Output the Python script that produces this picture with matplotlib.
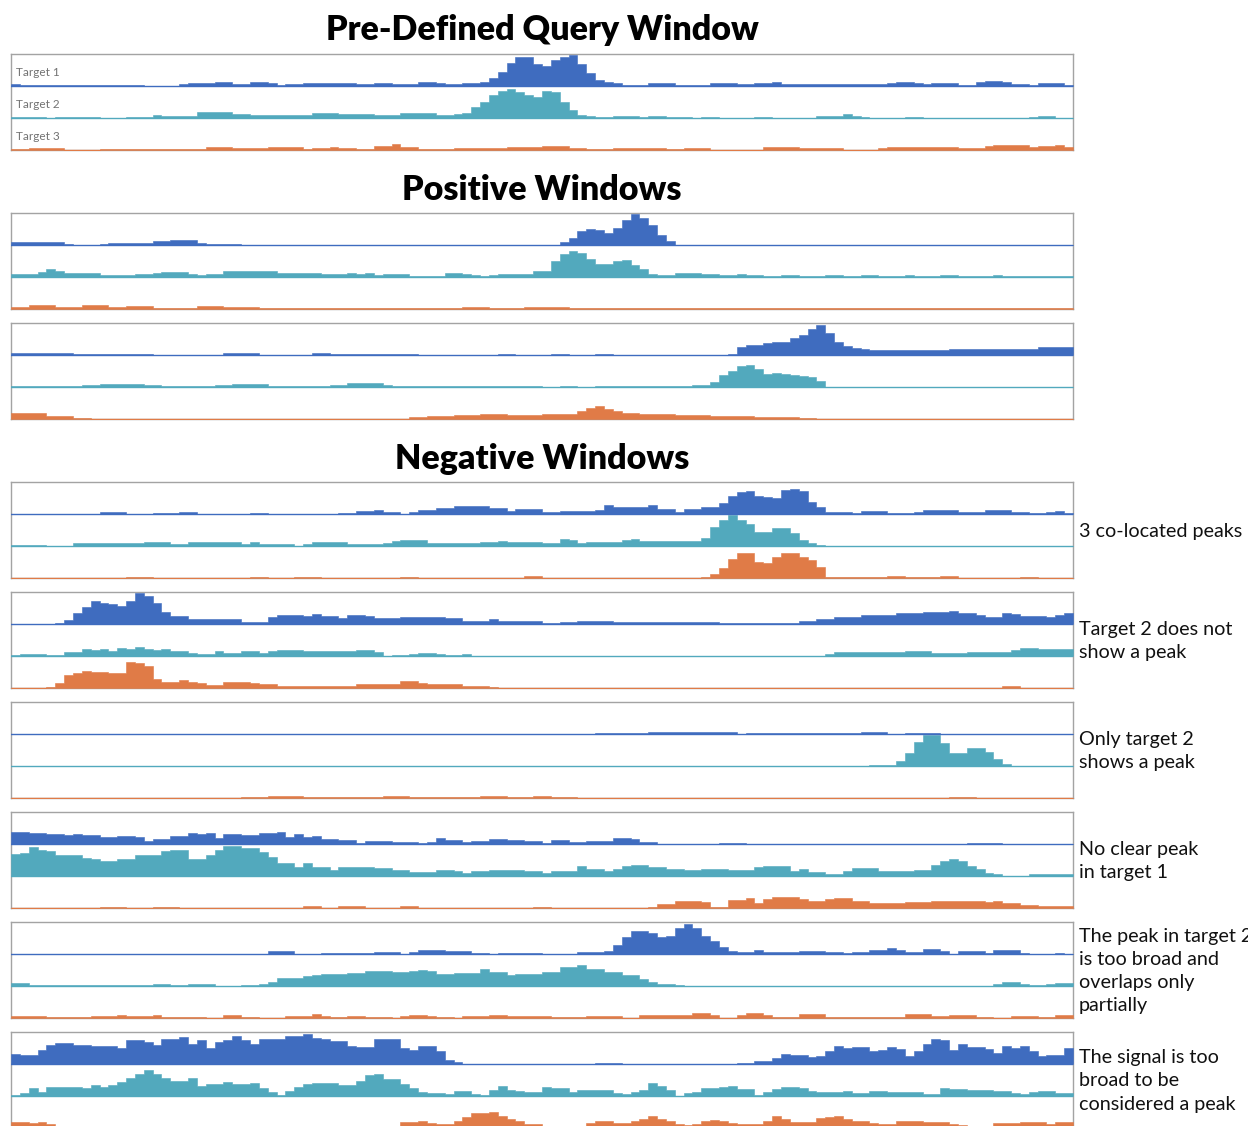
import numpy as np
import matplotlib.pyplot as plt

plt.rcParams['font.family'] = ['Lato', 'DejaVu Sans']

# ---------------------------------------------------------------------------
# Binned signal (120 bins per window, track height = 32 units)
# ---------------------------------------------------------------------------
query_t1 = [2, 1.5, 1, 1, 1, 1, 1, 1, 1.5, 1,
            1, 1, 1, 1.3, 1.3, 0.5, 0.5, 0.5, 0.5, 2.5,
            2.7, 2.7, 2.7, 3.7, 3.7, 2.3, 2.3, 3.7, 3.7, 3,
            1.5, 2.3, 2.3, 3.3, 3.3, 3.5, 3.5, 3, 3, 2.3,
            2.3, 2.7, 2.7, 1.7, 1.7, 1.7, 3.7, 3.7, 2.7, 1.7,
            1.7, 2.7, 2.7, 3.7, 7.7, 14, 23, 29, 29, 22,
            20, 26, 29, 31, 22, 13, 6, 3.7, 2.7, 1.3,
            1.3, 1.3, 2.7, 2.7, 2.7, 1, 1, 1, 1, 3.3,
            3.3, 3.3, 1.7, 1.7, 2.7, 2.7, 3.7, 2.3, 2.3, 2.3,
            2.3, 1.7, 1.7, 1.7, 1.7, 1.7, 1.7, 2.3, 2.3, 3.3,
            4.3, 4.3, 3.3, 2, 2.7, 2.7, 2.7, 1.3, 1.3, 3.7,
            5, 5, 3.7, 2, 2, 0.7, 2.7, 2.7, 2.7, 1.3]
query_t2 = [0.7, 0.7, 0.7, 0.7, 0, 1, 1, 1, 1, 1,
            0.3, 0.3, 0.3, 1, 1, 1, 2.7, 1.7, 1.7, 1.7,
            1.7, 5.7, 5.7, 5.7, 5.7, 3.7, 3.7, 2.7, 2.7, 2.7,
            3, 3, 3, 3, 4.7, 4.7, 4.7, 4, 4, 4,
            4, 3.3, 3.3, 3.3, 4.7, 4.7, 4.7, 4.7, 2.7, 2.7,
            4, 5.3, 10.7, 16, 23, 27, 28.7, 26, 23, 21,
            27, 25.7, 16, 8, 2.7, 2, 0.7, 0.7, 1.7, 1.7,
            1.7, 1, 2, 2, 1, 1, 1, 0.3, 1, 1,
            0.3, 0.3, 0.3, 0.3, 1, 1, 0, 0, 0, 0,
            0, 2.3, 2.3, 2.3, 4, 2.3, 1, 0.3, 0.3, 0.3,
            0.3, 1, 1, 0.3, 0.3, 0.3, 0.3, 0.3, 0.3, 0.3,
            0.3, 0.3, 0.3, 0.3, 0.3, 0.7, 1.7, 1.7, 0.3, 0.3]
query_t3 = [1, 1, 1.7, 1.7, 1.7, 1.7, 0.3, 0.3, 0.3, 0.3,
            0.7, 0.7, 0.7, 0.7, 0.7, 0.7, 1.3, 1.3, 1.3, 1.3,
            1.3, 1.3, 3.3, 3.3, 3.3, 1.7, 1.7, 1.7, 1.7, 2.7,
            2.7, 2.7, 2.7, 1, 2.3, 2.3, 3.3, 2.3, 2.3, 1,
            1, 3.7, 3.7, 5.7, 3.3, 3.3, 1, 1, 1, 1,
            1.7, 1.7, 1.7, 1.7, 1.7, 1.7, 2.7, 2.7, 2.7, 2.7,
            3.7, 3.7, 3.7, 2, 2, 0.7, 0.7, 0.7, 2.3, 2.3,
            2.3, 2.3, 2.3, 2.3, 1.3, 1.3, 2, 2, 2, 0.3,
            0.3, 0.3, 0.3, 0.3, 0.3, 2.7, 2.7, 2.7, 2.7, 2.3,
            2.3, 2.3, 2.3, 2.3, 0.3, 0.3, 0.3, 0.3, 1.7, 3.3,
            3.3, 3.3, 3.3, 3.3, 3.3, 3.3, 3.3, 1.7, 1.7, 1.7,
            4, 5.3, 5.3, 5.3, 5.3, 3.3, 3.7, 3.7, 4.7, 3.3]

pos1_t1 = [2.7, 2.7, 2.7, 2.7, 2.7, 2.7, 1.3, 0, 0, 0,
           1.3, 2.3, 2.3, 2.3, 2.3, 2.3, 3.7, 3.7, 4.7, 4.7,
           4.7, 2.3, 1, 1, 1, 1, 0.3, 0.3, 0.3, 0.3,
           0.3, 0.3, 0.3, 0.3, 0.3, 0.3, 0.3, 0.3, 0.3, 0.3,
           0.3, 0.3, 0.3, 0.3, 0.3, 0.3, 0.3, 0.3, 0.3, 0.3,
           0.3, 0.3, 0.3, 0.3, 0.3, 0.3, 0.3, 0.3, 0.3, 0.3,
           0.3, 0.3, 2.7, 7.3, 14, 16, 15, 11.7, 17.3, 25,
           30.7, 27, 20, 10, 4.3, 0.3, 0.3, 0.3, 0.3, 0.3,
           0.2, 0.2, 0.2, 0.2, 0.2, 0.2, 0.2, 0.2, 0.2, 0.2,
           0.2, 0.2, 0.2, 0.2, 0.2, 0.2, 0.2, 0.2, 0.2, 0.2,
           0.2, 0.2, 0.2, 0.2, 0.2, 0.2, 0.2, 0.2, 0.2, 0.2,
           0.2, 0.2, 0.2, 0.2, 0.2, 0.2, 0.2, 0.2, 0.2, 0.2]
pos1_t2 = [3.3, 3.3, 3.3, 5.3, 8, 6.3, 4.3, 4.3, 4.3, 4.3,
           2.3, 2.3, 2.3, 1.7, 2.7, 2.7, 3.7, 4.7, 4.7, 4.7,
           3, 2, 3.3, 3.3, 5.7, 5.7, 5.7, 5.7, 5.7, 5.7,
           3.7, 3.7, 3.7, 3.7, 3.7, 2.7, 2.7, 2.7, 4.3, 3,
           4, 2.3, 2.7, 2.7, 2.7, 1.3, 1.3, 1.3, 1.3, 4.3,
           4.3, 3, 2.3, 1, 2, 3.3, 3.3, 3.3, 3.3, 6,
           6, 16, 22.7, 26, 24.3, 18, 13, 13, 16, 16.7,
           12, 8, 2.7, 2, 2, 4, 4, 4, 3, 3,
           2, 2, 3, 2, 2, 1, 1, 2, 2, 1,
           1, 1, 2, 2, 1, 1, 2, 2, 1, 1,
           1, 2, 1, 1, 1, 2, 2, 1, 1, 1,
           1, 2, 1, 1, 1, 1, 1, 1, 1, 1]
pos1_t3 = [2.3, 2.3, 4, 4, 4, 2.3, 2.3, 2.3, 4, 4,
           4, 2.3, 2.3, 3.3, 3.3, 3.3, 1.3, 1.3, 1.3, 1.3,
           1.3, 2.7, 2.7, 2.7, 2, 2, 2, 2, 1, 1,
           1, 1, 1, 1, 1, 1, 1, 1, 1, 1,
           1, 1, 1, 1, 1, 1, 1, 1, 1, 1.3,
           1.3, 2.3, 2.3, 2.3, 0.7, 0.7, 0.7, 0.7, 2, 2,
           2, 2, 2, 0.7, 0.7, 0.7, 0.7, 0.7, 0.7, 0.7,
           0.7, 1, 1, 0.7, 0.7, 1, 1, 0.7, 0.7, 0.7,
           1, 1, 0.7, 0.7, 0.7, 1, 1, 0.7, 0.7, 0.7,
           0.7, 1, 1, 0.7, 0.7, 0.7, 1, 1, 0.7, 0.7,
           0.7, 1, 1, 1, 0.7, 0.7, 0.7, 0.7, 1, 1,
           0.7, 0.7, 0.7, 1, 1, 0.7, 0.7, 0.7, 0.7, 0.7]

pos2_t1 = [2, 2, 2, 2, 2, 2, 2, 1, 1, 1,
           1.5, 1.5, 1.5, 1.5, 1.5, 1.5, 0.5, 0.5, 0.5, 0.5,
           0.5, 0.5, 0.5, 0.5, 2, 2, 2, 2, 0.5, 0.5,
           0.5, 0.5, 0.5, 0.5, 2, 2, 0.7, 0.7, 0.7, 0.7,
           0.7, 0.7, 0.7, 0.7, 1.5, 1.5, 0.5, 0.5, 0.5, 0.5,
           0.5, 0.5, 0.5, 0.5, 0.5, 1, 1, 0.5, 0.5, 0.5,
           0.5, 1, 1, 0.5, 0.5, 0.5, 1, 1, 0.5, 0.5,
           0.5, 0.5, 0.5, 0.5, 0.5, 0.5, 0.5, 0.5, 0.5, 0.5,
           0.5, 1, 8, 10, 10, 12, 13, 13, 17, 20,
           26, 30, 22, 13, 9, 7, 6, 5, 5, 5,
           5, 5, 5, 5, 5, 5, 6, 6, 6, 6,
           6, 6, 6, 6, 6, 6, 8, 8, 8, 8]
pos2_t2 = [1, 1, 1, 1, 1, 1, 1, 1, 2, 2,
           3.5, 3.5, 3.5, 3.5, 3, 2, 2, 1, 1, 1,
           1, 1, 1, 2, 2, 3.5, 3.5, 3.5, 3.5, 1.5,
           1.5, 1.5, 1.5, 1, 1, 1, 2.5, 2.5, 4, 4,
           4, 4, 2, 1, 1, 1, 1, 1, 1, 1,
           1, 1, 1, 1, 1, 1, 1, 1, 1, 1,
           0.5, 0.5, 1, 1, 0.5, 0.5, 1, 1, 1, 1,
           1, 1.5, 1.5, 1.5, 1.5, 1.5, 1.5, 2, 2, 5,
           12, 16, 21, 22, 18, 13, 14, 13, 12, 11,
           10, 6, 0, 0, 0, 0, 0, 0, 0, 0,
           0, 0, 0, 0, 0, 0, 0, 0, 0, 0,
           0, 0, 0, 0, 0, 0, 0, 0, 0, 0]
pos2_t3 = [6, 6, 6, 6, 3, 3, 3, 1, 1, 0.5,
           0.5, 0.5, 0.5, 0.5, 0.5, 0.5, 0.5, 0.5, 0.5, 0.5,
           0.5, 0.5, 0.5, 0.5, 0.5, 0.5, 0.5, 0.5, 0.5, 0.5,
           0.5, 0.5, 0.5, 0.5, 0.5, 0.5, 0.5, 0.5, 0.5, 0.5,
           0.5, 0.5, 0.5, 0.5, 0.5, 2, 2, 3, 3, 3,
           4, 4, 4, 5, 5, 5, 4, 4, 4, 4,
           5, 5, 5, 5, 8, 11, 13, 10, 8, 6,
           6, 5, 5, 5, 5, 4, 4, 4, 4, 3,
           3, 3, 3, 3, 2, 2, 2, 2, 2, 1.5,
           1.5, 0.3, 0.3, 0.3, 0.3, 0.3, 0.3, 0.3, 0.3, 0.3,
           0.3, 0.3, 0.3, 0.3, 0.3, 0.3, 0.3, 0.3, 0.3, 0.3,
           0.3, 0.3, 0.3, 0.3, 0.3, 0.3, 0.3, 0.3, 0.3, 0.3]

neg1_t1 = [0, 0, 0, 0, 0, 0.3, 0.3, 0.3, 0.3, 0.3,
           1.7, 1.7, 1.7, 0, 0, 0, 0.7, 0.7, 0.7, 2.3,
           2.3, 0, 0, 0, 0.3, 0.3, 0.3, 1.3, 1.3, 0,
           0, 0, 0, 0, 0, 0, 0, 1, 1, 2.7,
           2.7, 4.3, 2, 2, 0.3, 1.7, 4, 4, 5.7, 5.7,
           7.7, 7.7, 7.7, 7.7, 6.3, 6.3, 2.7, 5.3, 5.3, 5.3,
           2.3, 2.3, 3, 3, 3, 3, 4, 8.7, 7.3, 7.3,
           7.3, 7.3, 9.3, 5.3, 5.3, 2.3, 4.7, 4.7, 7.3, 7.3,
           10.7, 18.3, 21.7, 23.3, 18.3, 16.7, 16, 24, 25, 23.3,
           11.7, 6.7, 2.3, 2.3, 2.3, 1, 3, 3, 3, 1.3,
           1.3, 0.7, 2.3, 3.7, 3.7, 3.7, 3.7, 2, 2, 2.3,
           4, 4, 4, 2.3, 2.3, 0.7, 0.7, 2, 3, 1.3]
neg1_t2 = [1, 1, 1, 1, 0, 0, 0, 3, 3, 3,
           3, 3, 3, 3, 3, 4.3, 4.3, 4.3, 2.3, 2.3,
           4, 4, 4, 4, 4, 4, 2.3, 3.7, 2, 2,
           2, 2, 0, 2.3, 4.3, 4.3, 4.3, 4.3, 1.7, 1.7,
           1.7, 1.7, 3.3, 4.7, 6.3, 6.3, 6.3, 3, 3, 3,
           3, 3, 3, 3.7, 3.7, 4.7, 3.7, 3.7, 3.7, 3.7,
           3, 3, 7.3, 6.3, 3, 4, 4, 4, 4, 6.3,
           7.3, 5, 5, 5, 5, 5, 5, 5, 8.3, 19,
           26.3, 30.7, 26.3, 22.3, 14, 14, 18, 18, 13, 6.3,
           3, 1, 0, 0, 0, 0, 0.3, 0.3, 0.3, 0,
           0, 0, 0, 0, 0, 0, 0, 0, 0, 0,
           0, 0, 0, 0, 0, 0, 0, 0, 0, 0]
neg1_t3 = [0.3, 0.3, 0.3, 0.3, 0.3, 0.3, 0.3, 0.3, 0.3, 0.3,
           0.3, 0.3, 0.3, 1.3, 1.3, 1.3, 0.3, 0.3, 0.3, 0.3,
           0.3, 0.3, 0.3, 0.3, 0.3, 0.3, 0.3, 1, 1, 0.3,
           0.3, 0.3, 1.3, 1.3, 1.3, 0.3, 0.3, 0.3, 0.3, 0.3,
           0.3, 0.3, 0.3, 0.3, 1.3, 1.3, 0.3, 0.3, 0.3, 0.3,
           0.3, 0.3, 0.3, 0.3, 0.3, 0.3, 0.3, 0.3, 2, 2,
           0.3, 0.3, 0.3, 0.3, 0.3, 0.3, 0.3, 0.3, 0.3, 0.3,
           0.3, 0.3, 0.3, 0.3, 0.3, 0.3, 0.3, 0.3, 1.3, 3.7,
           10.3, 19, 24.7, 24.7, 16.3, 14.7, 20.7, 25.3, 25.3, 20.7,
           18, 10.7, 1, 1, 1, 1, 1, 1, 1, 2,
           2, 0.7, 0.7, 0.7, 0.7, 1.7, 1.7, 0.3, 0.3, 0.3,
           0.3, 0.3, 0.3, 0.3, 1.3, 1.3, 0.3, 0.3, 0.3, 0.3]

neg2_t1 = [0, 0, 0, 0, 0, 1.3, 4, 10.7, 17.3, 23.3,
           21.3, 20, 18.3, 23.3, 30.7, 28.3, 20.7, 11.7, 8.3, 8.3,
           5, 5, 4.7, 4.7, 4.7, 4.7, 2.3, 2.3, 2.3, 7.3,
           9, 9, 9, 8, 9.7, 8, 8, 6.3, 8.7, 8.7,
           8, 6, 6, 6, 7.3, 7.3, 7.3, 7.3, 7.3, 5.7,
           5.7, 2.7, 2.7, 2.7, 4.7, 3, 3, 3, 3, 3,
           0.7, 0.7, 1.7, 1.7, 3.3, 3.3, 3.3, 3.3, 2.3, 2.3,
           2.3, 2.3, 2.3, 2.3, 1.7, 1.7, 1.7, 1.7, 1.7, 1.7,
           0.7, 0.7, 0.7, 0.7, 0.7, 0.7, 0.7, 0.7, 0.7, 3.3,
           3.3, 5.3, 5.3, 7.3, 7.3, 7.3, 9, 9, 9, 9,
           10.7, 10.7, 10.7, 11.7, 11.7, 11.7, 13, 11.3, 11.3, 9,
           6.7, 6.7, 10.7, 9.7, 8, 8, 8, 6.7, 8.7, 11.3]
neg2_t2 = [0.7, 2, 1.7, 1.7, 0.7, 1.3, 4, 4, 7.3, 6.3,
           7.3, 4.7, 8, 7.3, 8.7, 6.7, 5.7, 6.7, 5, 5,
           3, 2.3, 2.3, 5, 3.3, 3.3, 4.7, 5.3, 3.3, 4.7,
           5.7, 5.7, 5.7, 4.7, 4.7, 5.3, 5.3, 5.3, 4.7, 5.7,
           5.7, 4.3, 0, 0.7, 0.7, 2.3, 3.3, 3.3, 2.3, 1.3,
           1.3, 1.7, 0.3, 0.3, 0.3, 0.3, 0.3, 0.3, 0.3, 0.3,
           0, 0, 0, 0, 0, 0, 0, 0, 0, 0,
           0, 0, 0, 0, 0, 0, 0, 0, 0, 0,
           0, 0, 0, 0, 0, 0, 0, 0, 0, 0.5,
           0.3, 0.3, 2.3, 4, 4, 4, 4, 4, 4, 4,
           4, 5, 5, 5, 3.3, 3.3, 3.3, 3.3, 4.3, 3.7,
           3.7, 3.7, 3.7, 5.7, 8, 8, 7, 7, 7, 7]
neg2_t3 = [0, 0, 0, 0, 1.3, 5.3, 13, 14.7, 17.3, 15.7,
           15.7, 15.3, 15.3, 26.3, 24.7, 22.3, 8.7, 6.3, 6.3, 7.7,
           6.3, 4.7, 2.7, 2.7, 5.7, 5.7, 6, 4.7, 4.3, 4.3,
           2, 2, 2, 2, 2, 2, 2, 2, 2, 4,
           4, 4, 4, 4, 7.3, 7.3, 5.3, 4, 4, 4,
           4, 2.3, 2.3, 2.3, 1.3, 0, 0, 0, 0, 0.5,
           0.5, 0, 0, 0, 0, 0, 0, 0, 0, 0,
           0, 0, 0, 0, 0, 0, 0, 0, 0, 0,
           0, 0, 0, 0, 0, 0, 0, 0, 0, 0.5,
           0.5, 0, 0, 0, 0, 0, 0, 0, 0, 0,
           0, 0, 0, 0, 0, 0, 0, 0, 0, 0,
           0, 0, 2.3, 2.3, 0, 0, 0, 0, 0, 0]

neg3_t1 = [0, 0, 0, 0, 0, 0, 0, 0, 0, 0,
           0, 0, 0, 0, 0, 0, 0, 0, 0, 0,
           0, 0, 0, 0, 0, 0, 0, 0, 0, 0,
           0, 0, 0, 0, 0, 0, 0, 0, 0, 0,
           0, 0, 0, 0, 0, 0, 0, 0, 0, 0,
           0, 0, 0, 0, 0, 0, 0, 0, 0, 0,
           0, 0, 0, 0.3, 0.3, 0, 0.7, 0.7, 0.7, 0.7,
           0.7, 0.7, 1.7, 1.7, 1.7, 1.7, 1.7, 1.7, 1.7, 1.7,
           1.7, 1.7, 0.5, 1.3, 1.3, 1.3, 1.3, 1.3, 1.3, 1.3,
           1.3, 0.7, 0.7, 0.7, 0.7, 0.7, 2, 2, 2, 0.3,
           0.3, 0.7, 0.7, 0.7, 0.7, 0.3, 0.3, 0.3, 0.3, 0.3,
           0.3, 0.3, 0.3, 0.3, 0.3, 0.3, 0.3, 0.3, 0.3, 0.3]
neg3_t2 = [0, 0, 0, 0, 0, 0, 0, 0, 0, 0,
           0, 0, 0, 0, 0, 0, 0, 0, 0, 0,
           0, 0, 0, 0, 0, 0, 0, 0, 0, 0,
           0, 0, 0, 0, 0, 0, 0, 0, 0, 0,
           0, 0, 0, 0, 0, 0, 0, 0, 0, 0,
           0, 0, 0, 0, 0, 0, 0, 0, 0, 0,
           0, 0, 0, 0, 0, 0, 0, 0, 0, 0,
           0, 0, 0, 0, 0, 0, 0, 0, 0, 0,
           0, 0, 0, 0, 0, 0, 0, 0, 0, 0,
           0, 0, 0, 0, 0, 0, 0, 0.7, 0.7, 0.7,
           4.7, 13, 24, 30.7, 30.7, 23, 13.3, 13.3, 18, 18,
           14, 7.3, 1.7, 0, 0, 0, 0, 0, 0, 0]
neg3_t3 = [0.3, 0.3, 0.3, 0.3, 0.3, 0.3, 0.3, 0.3, 0.3, 0.3,
           0.3, 0.3, 0.3, 0.3, 0.3, 0.3, 0.3, 0.3, 0.3, 0.3,
           0.3, 0.3, 0.3, 0.3, 0.3, 0.3, 0.7, 0.7, 0.7, 2.3,
           2.3, 2.3, 2.3, 1.3, 1.3, 1.3, 1.3, 1.3, 0.7, 1,
           1, 1, 1.7, 1.7, 1.7, 0.7, 0.7, 0.7, 0.7, 0.7,
           0.7, 1.3, 1.3, 2.3, 2.3, 2.3, 1.3, 1.3, 1.3, 2,
           2, 0.7, 1.3, 1.3, 0.3, 0.3, 0.3, 0.3, 0.3, 0.3,
           0.3, 0.3, 0.3, 0.3, 0.3, 0.3, 0.3, 0.3, 0.3, 0.3,
           0.3, 0.3, 0.3, 0.3, 0.3, 0.3, 0.3, 0.3, 0.3, 0.3,
           0.3, 0.3, 0.3, 0.3, 0.3, 0.3, 0.3, 0.3, 0.3, 0.3,
           0.3, 0.3, 0.3, 0.3, 0.3, 0.3, 1, 1, 1, 0.3,
           0.3, 0.3, 0.3, 0.3, 0.3, 0.3, 0.3, 0.3, 0.3, 0.3]

neg4_t1 = [11.7, 11.7, 11, 11, 10.3, 10.3, 9, 9.7, 8.7, 8.7,
           6.7, 6.7, 7.7, 7.7, 6.7, 3.3, 5, 5, 8, 8,
           11.3, 10, 10.7, 6.3, 9.7, 9.7, 8.7, 8.7, 10.7, 10.7,
           11.7, 7.3, 10.3, 7.3, 8, 5.3, 5.3, 4, 4, 1.3,
           3, 3, 3, 2, 2, 2, 1.3, 2, 5.7, 4,
           4, 2, 3.3, 3.3, 4.7, 4.7, 4, 4, 2.7, 2.7,
           1.3, 3.7, 3.7, 2.3, 2.3, 2.7, 2.7, 3.3, 6.3, 6.3,
           4.7, 1.7, 1.7, 0.3, 0.3, 0.3, 0.3, 0.3, 0.3, 0.3,
           1, 1, 1, 0.2, 0.2, 0.2, 0.2, 0.2, 0.2, 0.2,
           0.2, 0.2, 0.2, 0.2, 0.2, 0.2, 0.2, 0.2, 0.2, 0.2,
           0.2, 0.2, 0.2, 0.2, 0.2, 0.2, 0.2, 0.2, 0.7, 0.7,
           0.7, 0.7, 0.2, 0.2, 0.2, 0.2, 0.2, 0.2, 0.2, 0.2]
neg4_t2 = [22.3, 23, 29, 26.3, 25, 20.7, 20.7, 20.7, 18.3, 16.7,
           15, 15, 17.3, 17.3, 20.7, 21.3, 21.3, 24.7, 25.7, 25.7,
           17, 17, 20.7, 26.3, 29.7, 29.7, 28.3, 28.3, 23.7, 19,
           13.3, 13.3, 9, 13.3, 9, 9, 6.3, 9.3, 9.3, 9.3,
           9.3, 8.3, 8.3, 5.7, 5.7, 3.7, 3.7, 3.7, 6.3, 6.3,
           4.7, 3, 5.3, 5.3, 6.3, 6.3, 6.3, 6.3, 4.7, 5,
           3, 4.7, 4.7, 4.7, 10, 7.3, 7.3, 5, 7, 9.7,
           11.3, 11.3, 9, 9, 7.3, 7.3, 6, 6, 7, 7,
           7, 5.7, 5.7, 5.7, 9, 10, 10, 10, 4.7, 6.7,
           3.7, 3.7, 2.3, 2.3, 5, 8.3, 8.3, 8.3, 4.7, 4.7,
           4.7, 4.7, 6.3, 6.3, 11.3, 14.7, 17.3, 15, 10, 7.3,
           3.3, 1.7, 0.3, 0.3, 0.3, 2, 2, 2, 2, 2]
neg4_t3 = [0.3, 0.3, 0.3, 0.3, 0.3, 0.3, 0.3, 0.3, 0.3, 0.3,
           1.3, 1.3, 1.3, 0.3, 0.3, 0.3, 0.7, 0.7, 0.7, 0.3,
           0.3, 0.3, 0.3, 0.3, 0.3, 0.3, 0.3, 0.3, 0.3, 0.3,
           0.3, 0.3, 0.3, 1.7, 1.7, 0.3, 0.3, 2.3, 2.3, 2.3,
           0.3, 0.3, 0.3, 0.3, 1.7, 1.7, 0.3, 0.3, 0.3, 0.3,
           0.3, 0.3, 0.3, 0.3, 0.3, 0.3, 0.3, 0.3, 0.3, 0.7,
           0.7, 0.3, 0.3, 0.3, 0.3, 0.3, 0.3, 0.3, 0.3, 0.3,
           0.3, 0.3, 1.3, 3.7, 3.7, 7, 7, 7, 5.7, 1.3,
           1.3, 8, 8, 10.3, 4.7, 9.3, 11, 11, 11, 8.7,
           6.7, 6.7, 9, 10, 10, 7, 7, 5.3, 5.3, 5.3,
           5.3, 6, 6, 6, 6.7, 6.7, 6.7, 6.7, 6.7, 6.7,
           5.7, 6.7, 5.3, 5.3, 3.3, 3.3, 2, 2, 2, 2]

neg5_t1 = [0.3, 0.3, 0.3, 0.3, 0.3, 0.3, 0.3, 0.3, 0.3, 0.3,
           0.3, 0.3, 0.3, 0.3, 0.3, 0.3, 0.3, 0.3, 0.3, 0.3,
           0.3, 0.3, 0.3, 0.3, 0.3, 0.3, 0.3, 0.3, 0.3, 3,
           3, 3, 0.2, 0.2, 0.2, 0.7, 0.7, 0.7, 0.7, 0.7,
           0.7, 2, 2, 2, 0.3, 2.3, 4, 4, 4, 3,
           3, 3, 1, 1, 0.2, 1, 1, 1.3, 1.3, 1.3,
           0.3, 0.3, 0.3, 0.3, 1.7, 1.7, 1.7, 3.3, 9.3, 16.7,
           23.3, 23.3, 20.7, 17.3, 18.3, 26, 30, 26, 18.3, 13.3,
           7.3, 2.7, 2.3, 2.3, 3.7, 2.3, 2.3, 1.7, 1.7, 3.3,
           3.3, 3.3, 2, 2, 1, 1.7, 1.7, 4, 4, 6,
           4, 2.3, 1.7, 5.3, 5.3, 3.3, 0.3, 3, 3, 3,
           1.3, 4.3, 4.3, 4.3, 1, 0.3, 0.3, 0.3, 1.3, 0.2]
neg5_t2 = [3, 3, 1.3, 1.3, 1.3, 1.3, 1.3, 1.3, 1.3, 1.3,
           1.3, 0.7, 0.7, 0.7, 0.7, 0.7, 2.3, 2.3, 0.7, 0.7,
           1.7, 1.7, 1.7, 0.3, 0.3, 0.3, 1, 1, 2.3, 4.3,
           8.3, 8.3, 8.3, 9.7, 11.3, 11.7, 11.7, 11.7, 13, 13,
           15, 15, 15, 13.7, 13.7, 14.7, 16.3, 14.7, 12.3, 12.3,
           13.3, 13.3, 13.3, 17, 14.3, 14.3, 11.3, 12.3, 12.3, 12.3,
           14, 14, 19, 19, 21.3, 17.3, 17.3, 14, 14, 10.7,
           10.7, 7.3, 3.7, 2.3, 2.3, 0.7, 0, 0, 0, 0,
           0, 0, 0, 0, 0, 0, 0, 0, 0, 0,
           0, 0, 0, 0, 0, 0, 0, 0, 0, 0,
           0, 0, 0, 0, 0, 0, 0, 0, 0, 0,
           0, 2.3, 3.7, 3.7, 2.3, 0.7, 0.7, 2, 2.7, 2.7]
neg5_t3 = [1.7, 1.7, 1.7, 1.7, 0.7, 0.7, 0.7, 0.7, 0.7, 2,
           2, 2, 3, 2, 2, 2, 2.7, 1.3, 1.3, 1,
           1, 1, 0.2, 0.2, 2.7, 2.7, 1.3, 1.3, 0.3, 0.3,
           0.3, 2.3, 2.3, 2.3, 3.7, 2.3, 1.3, 1.3, 1.7, 1.7,
           1.3, 1.3, 1.3, 0.3, 1.7, 3.3, 3.3, 2, 0.7, 0.7,
           0.2, 2, 2, 2, 3.3, 3.3, 2.3, 2.3, 2.3, 2.3,
           1.7, 0.7, 0.7, 0.7, 0.7, 1.7, 1.7, 1.7, 1.7, 0.3,
           0.3, 2.7, 2.7, 2.7, 2.7, 2.7, 3.3, 5, 5, 3,
           0.3, 0.3, 3, 5, 5, 3, 1.3, 1.3, 1.3, 3.7,
           3.7, 3.7, 1.3, 1.3, 1.3, 1.3, 1.3, 1.3, 1.3, 1.3,
           1.3, 4.3, 4.3, 4.3, 2.3, 2.3, 2.7, 2.7, 2.7, 1.3,
           1.3, 0.3, 0.3, 2, 2, 2, 1.3, 1.3, 3, 3]

neg6_t1 = [10, 8.7, 9.3, 14.3, 18.7, 21, 21, 19.3, 19.3, 17.7,
           17.7, 17.7, 16, 23.7, 23.7, 22.3, 19.3, 25.3, 25.3, 27,
           20, 23.7, 16, 21.7, 24.3, 27.7, 23.7, 20.3, 25, 25,
           25, 27.7, 27.7, 30.3, 26, 25, 22.7, 22.7, 18.3, 16.7,
           16.7, 25.3, 25.3, 25.3, 16.3, 14.3, 18.3, 18.3, 13.3, 4.3,
           2, 0.2, 0.2, 0.2, 0.2, 0.2, 0.2, 0.2, 0.2, 0.2,
           0.2, 0.2, 0.2, 0.2, 0.2, 0.2, 1, 1, 1, 0.2,
           0.2, 0.2, 0.2, 0.2, 0.2, 0.2, 0.2, 0.2, 0.2, 0.2,
           0.2, 0.2, 0.7, 0.7, 2.7, 2.7, 6, 10.3, 9.3, 9.3,
           6.7, 8.3, 12.7, 17.7, 16, 16.7, 16.7, 12.7, 14.3, 16.7,
           15, 8.3, 12.7, 20.3, 25.3, 23.7, 14.3, 20, 17, 17,
           15.3, 11, 18.3, 16, 18.3, 13.3, 7.7, 9.3, 8.7, 16]
neg6_t2 = [1.3, 2.7, 8.3, 4.3, 9.3, 9.3, 9.3, 9.3, 7.7, 11,
           9.3, 11, 13.7, 17.7, 21.7, 26, 22, 17.7, 15.3, 15.3,
           17.7, 10.3, 12, 12, 13.7, 12, 12, 12.7, 7.7, 4.3,
           1.3, 5, 9.3, 11.7, 12.7, 12.7, 12.7, 11, 11, 15,
           21, 22, 16.7, 16.7, 11.7, 7.7, 3.7, 2.7, 3.3, 2,
           4.7, 4.7, 2, 1, 6, 10, 6, 5, 4, 4,
           9.3, 7.7, 7.7, 4.3, 6, 6, 6, 6, 2.7, 1.7,
           4.3, 6, 13.3, 10, 6, 0, 2.7, 4.3, 7.7, 7.7,
           9.3, 10.3, 6.7, 6.7, 1, 3.7, 6.7, 9.3, 9.3, 7.7,
           5.3, 3.7, 3.7, 3.7, 5, 3.3, 3.3, 5, 5, 4.3,
           4.3, 3.7, 3.7, 1.7, 1.7, 8.3, 7, 7, 5.7, 5.7,
           5.7, 5, 5, 3.3, 1.7, 4.3, 5.3, 5.3, 3.3, 3.3]
neg6_t3 = [6, 6, 5, 5.7, 4.3, 1, 1, 1, 1, 1,
           1, 1, 1, 1, 1, 1, 1, 1, 1, 1,
           1, 1, 1, 1, 1, 1, 1, 1, 1, 1,
           1, 1, 1, 1, 1, 1, 1, 1, 1, 1,
           1, 1, 1, 1, 6, 6, 6.7, 5, 3.7, 3.7,
           6.7, 11, 15, 15, 16.3, 11.7, 9.3, 7.3, 4.3, 4.3,
           1, 1, 1, 1, 1, 5, 7.3, 7.3, 5, 5,
           6.7, 9, 12.3, 9.3, 7.3, 4, 3.3, 4.3, 7.3, 8.3,
           7, 5, 4.3, 4.3, 4.3, 7, 11.7, 9, 6.3, 5.7,
           5.7, 10, 11, 12.3, 9, 7.3, 7.3, 5, 4.3, 4.3,
           7, 7, 7, 5.7, 5.7, 5.7, 3.7, 2.7, 0.5, 0.5,
           0.5, 5, 5, 5, 6, 6.3, 6.3, 4.3, 6.3, 6.3]

windows = [
    (query_t1, query_t2, query_t3),
    (pos1_t1, pos1_t2, pos1_t3),
    (pos2_t1, pos2_t2, pos2_t3),
    (neg1_t1, neg1_t2, neg1_t3),
    (neg2_t1, neg2_t2, neg2_t3),
    (neg3_t1, neg3_t2, neg3_t3),
    (neg4_t1, neg4_t2, neg4_t3),
    (neg5_t1, neg5_t2, neg5_t3),
    (neg6_t1, neg6_t2, neg6_t3),
]
track_names = ['Target 1', 'Target 2', 'Target 3']
section_titles = ['Pre-Defined Query Window', 'Positive Windows', 'Negative Windows']
notes = [
    None, None, None,
    '3 co-located peaks',
    'Target 2 does not\nshow a peak',
    'Only target 2\nshows a peak',
    'No clear peak\nin target 1',
    'The peak in target 2\nis too broad and\noverlaps only\npartially',
    'The signal is too\nbroad to be\nconsidered a peak',
]

# ---------------------------------------------------------------------------
# Layout (pixels)
# ---------------------------------------------------------------------------
W, H = 1248, 1126
PANEL_X, PANEL_W, PANEL_H = 11, 1062, 96
panel_tops = [54, 213, 323, 482, 592, 702, 812, 922, 1032]
title_y = [30, 190, 459]
TRACK_H = 32
colors = ['#3f6cbf', '#52a9bd', '#e07b47']
frame_color = '#a3a3a3'

fig = plt.figure(figsize=(W / 100, H / 100), dpi=100)


def fx(px):
    return px / W


def fy(py):
    return 1 - py / H


for k, (tracks, top) in enumerate(zip(windows, panel_tops)):
    ax = fig.add_axes([fx(PANEL_X), fy(top + PANEL_H), PANEL_W / W, PANEL_H / H])
    n = len(tracks[0])
    edges = np.arange(n + 1)
    for j, (vals, c) in enumerate(zip(tracks, colors)):
        base = (2 - j) * TRACK_H
        v = np.asarray(vals, dtype=float)
        ax.fill_between(edges, base, base + np.append(v, v[-1]), step='post',
                        facecolor=c, edgecolor=c, linewidth=0.4, zorder=2)
        ax.axhline(base, color=c, lw=1.0, zorder=3)
        if k == 0:
            ax.text(0.6, base + TRACK_H - 18, track_names[j], fontsize=8.5,
                    color='#737373', ha='left', va='center', zorder=4)
    ax.set_xlim(0, n)
    ax.set_ylim(0, 3 * TRACK_H)
    ax.set_xticks([])
    ax.set_yticks([])
    for s in ax.spines.values():
        s.set_color(frame_color)
        s.set_linewidth(1.0)
        s.set_zorder(1)
    if notes[k]:
        fig.text(fx(1079), fy(top + PANEL_H / 2 + 1), notes[k], fontsize=14.2,
                 ha='left', va='center', color='#111111',
                 linespacing=1.44)

for t, y in zip(section_titles, title_y):
    fig.text(fx(542), fy(y), t, fontsize=24.5, fontweight='heavy',
             ha='center', va='center', color='#000000')

fig.savefig('out.png', dpi=100)
